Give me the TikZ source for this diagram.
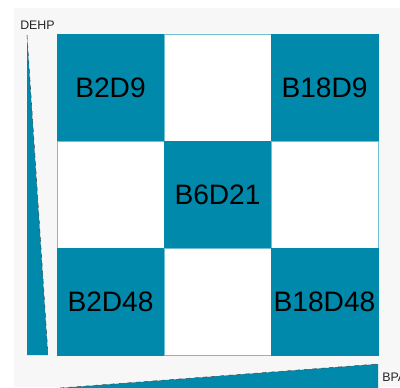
\documentclass[tikz,border=0pt]{standalone}
\usepackage{fontspec}
\setmainfont{Liberation Sans}

\definecolor{cellteal}{RGB}{0,137,170}
\definecolor{bggray}{RGB}{247,247,247}

\begin{document}
\begin{tikzpicture}[x=0.025cm, y=-0.025cm,
        cell/.style={rectangle, minimum size=2.675cm, inner sep=0pt, font=\fontsize{20}{24}\selectfont},
        fullcell/.style={cell, fill=cellteal, draw=cellteal},
        emptycell/.style={cell, fill=white, draw=cellteal!55, line width=0.6pt},
        axislabel/.style={font=\fontsize{8.8}{10}\selectfont, inner sep=0pt, text=black!85}]
    \useasboundingbox (0, 0) rectangle (400, 387);
    \fill[bggray] (14, 8) rectangle (400, 387);

    % 3 x 3 grid, cell centres
    \node[fullcell]  (b2d9)   at (110.5, 87.5)  {B2D9};
    \node[emptycell] (top)    at (217.5, 87.5)  {};
    \node[fullcell]  (b18d9)  at (324.5, 87.5)  {B18D9};
    \node[emptycell] (left)   at (110.5, 194.5) {};
    \node[fullcell]  (b6d21)  at (217.5, 194.5) {B6D21};
    \node[emptycell] (right)  at (324.5, 194.5) {};
    \node[fullcell]  (b2d48)  at (110.5, 301.5) {B2D48};
    \node[emptycell] (bottom) at (217.5, 301.5) {};
    \node[fullcell]  (b18d48) at (324.5, 301.5) {B18D48};

    % wedge scales
    \fill[cellteal] (27, 35) -- (48, 355) -- (27, 355) -- cycle;
    \draw[dashed, black!70, line width=0.4pt] (27, 35) -- (48, 355);
    \fill[cellteal] (60, 388) -- (378, 364) -- (378, 388) -- cycle;
    \draw[dashed, black!70, line width=0.4pt] (60, 388) -- (378, 364);

    \node[axislabel, anchor=south west] (dehp) at (20, 30) {DEHP};
    \node[axislabel, anchor=west] (bpa) at (382, 377) {BPA};
\end{tikzpicture}
\end{document}
